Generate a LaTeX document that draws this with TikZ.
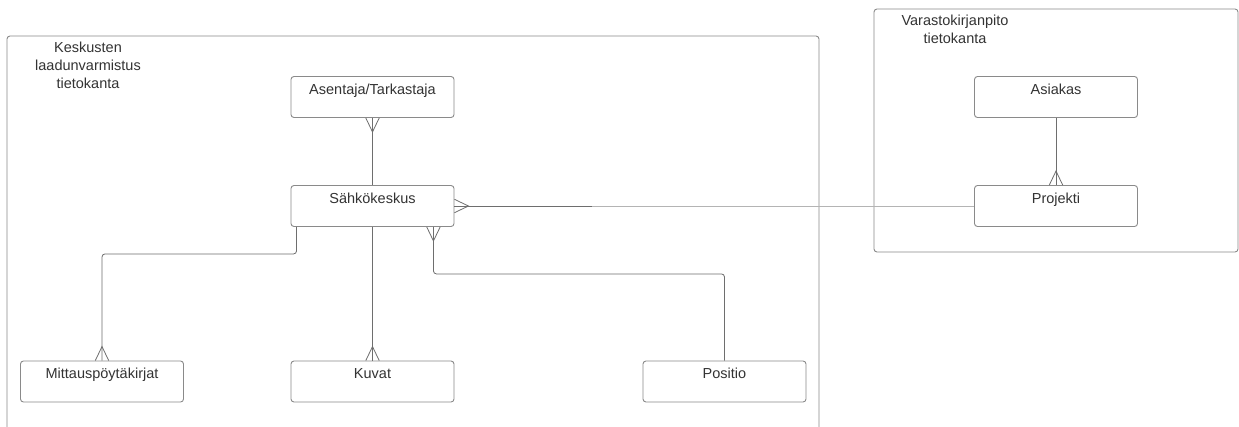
\documentclass[tikz,border=0pt]{standalone}
\usepackage{fontspec}
\setmainfont{Liberation Sans}
\usetikzlibrary{calc}
\definecolor{boxline}{HTML}{8A8A8A}
\definecolor{connline}{HTML}{6E6E6E}
\definecolor{lightconn}{HTML}{B4B4B4}
\definecolor{txt}{HTML}{333333}
\newcommand{\crowft}[2]{\draw[connector, shift={(#1)}, rotate=#2] (-6.7,0) -- (0,-14) -- (6.7,0);}
\begin{document}
\begin{tikzpicture}[x=1pt, y=1pt,
  entity/.style={draw=boxline, line width=0.9pt, rounded corners=3pt, rectangle,
    minimum width=163pt, minimum height=41pt, inner sep=0pt,
    text height=17.5pt, text depth=23.5pt, text=txt,
    font=\fontsize{14.5}{18}\selectfont},
  container/.style={draw=boxline, line width=0.9pt, rounded corners=3pt},
  title/.style={align=center, text=txt, inner sep=0pt, font=\fontsize{14.5}{18}\selectfont},
  connector/.style={draw=connline, line width=0.8pt}]
\useasboundingbox (0,0) rectangle (1239,-426);
\clip (0,0) rectangle (1239,-426);
\fill[white] (0,0) rectangle (1239,-426);

% containers
\draw[container] (7,-36) rectangle (819,-445);
\draw[container] (874,-9) rectangle (1238,-252);
\node[title] (t1) at (88,-65) {Keskusten\\laadunvarmistus\\tietokanta};
\node[title] (t2) at (955,-29) {Varastokirjanpito\\tietokanta};

% entities
\node[entity] (A) at (372.5,-97) {Asentaja/Tarkastaja};
\node[entity] (S) at (372.5,-206) {Sähkökeskus};
\node[entity] (M) at (102,-381.5) {Mittauspöytäkirjat};
\node[entity] (K) at (372.5,-381.5) {Kuvat};
\node[entity] (P) at (724.5,-381.5) {Positio};
\node[entity] (As) at (1056,-97) {Asiakas};
\node[entity] (Pr) at (1056,-206) {Projekti};

% connectors
\draw[connector] (A.south) -- (S.north);
\draw[connector] (S.south) -- (K.north);
\draw[connector, rounded corners=3pt] ($(S.south west)+(6,0)$) -- ++(0,-27) -| (M.north);
\draw[connector, rounded corners=3pt] ($(S.south east)+(-21,0)$) -- ++(0,-47) -| (P.north);
\coordinate (mid) at (592,-206);
\draw[connector] (S.east) -- (mid);
\draw[connector, draw=lightconn] (mid) -- (Pr.west);
\draw[connector] (As.south) -- (Pr.north);

% crow's feet
\crowft{A.south}{0}
\crowft{K.north}{180}
\crowft{M.north}{180}
\crowft{$(S.south east)+(-21,0)$}{0}
\crowft{S.east}{90}
\crowft{Pr.north}{180}
\end{tikzpicture}
\end{document}
